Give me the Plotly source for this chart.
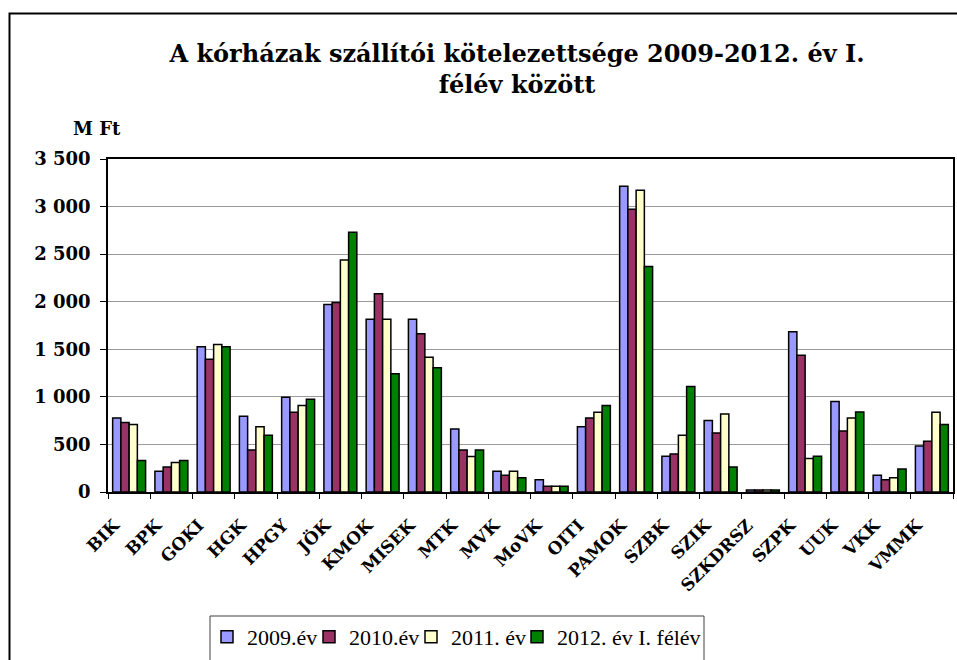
import plotly.graph_objects as go

categories = ["BIK", "BPK", "GOKI", "HGK", "HPGY", "JÖK", "KMOK", "MISEK", "MTK", "MVK",
              "MoVK", "OITI", "PAMOK", "SZBK", "SZIK", "SZKDRSZ", "SZPK", "UUK", "VKK", "VMMK"]
v2009 = [779, 217, 1526, 796, 996, 1971, 1817, 1817, 663, 217, 130, 687, 3213, 375, 751, 21, 1684, 951, 175, 484]
v2010 = [730, 263, 1396, 442, 838, 1992, 2083, 1663, 442, 175, 60, 779, 2971, 400, 621, 21, 1438, 642, 130, 533]
v2011 = [709, 309, 1550, 687, 908, 2438, 1817, 1417, 372, 217, 60, 838, 3171, 596, 821, 21, 351, 779, 151, 838]
v2012 = [330, 330, 1526, 596, 975, 2729, 1242, 1305, 442, 151, 60, 908, 2371, 1108, 263, 21, 375, 842, 242, 709]
series_names = ["2009.év", "2010.év", "2011. év", "2012. év I. félév"]
series_colors = ["#9999FF", "#993366", "#FFFFCC", "#008000"]
ytick_vals = [0, 500, 1000, 1500, 2000, 2500, 3000, 3500]
ytick_text = ["0", "500", "1 000", "1 500", "2 000", "2 500", "3 000", "3 500"]

W, H = 957, 660
L, R, T, B = 108, 953, 159, 492


def px_x(p):
    return (p - L) / (R - L)


def px_y(p):
    return (B - p) / (B - T)


legend_ids = ["legend", "legend2", "legend3", "legend4"]
legend_px = [207, 309, 411, 517]

fig = go.Figure()
for name, vals, col, lid in zip(series_names, [v2009, v2010, v2011, v2012], series_colors, legend_ids):
    fig.add_trace(go.Bar(x=categories, y=vals, name=name, legend=lid,
                         marker=dict(color=col, line=dict(color="black", width=1.5))))

serif = "DejaVu Serif"
legend_common = dict(orientation="h", y=px_y(616), xanchor="left", yanchor="top",
                     font=dict(family="Liberation Serif", size=22, color="black"),
                     bgcolor="rgba(0,0,0,0)", borderwidth=0, itemwidth=30)
legends = {lid: dict(x=px_x(xp), **legend_common) for lid, xp in zip(legend_ids, legend_px)}

fig.update_layout(
    width=W, height=H,
    margin=dict(l=L, r=W - R, t=T, b=H - B, autoexpand=False),
    paper_bgcolor="white", plot_bgcolor="white",
    barmode="group", bargap=0.22, bargroupgap=0,
    title=dict(text="<b>A kórházak szállítói kötelezettsége 2009-2012. év I.<br>félév között</b>",
               x=517 / W, xanchor="center", xref="container",
               y=1 - 62 / H, yanchor="top", yref="container",
               font=dict(family=serif, size=24, color="black")),
    xaxis=dict(showline=True, linecolor="black", linewidth=1.5, mirror=True,
               ticks="outside", tickson="boundaries", ticklen=5, tickcolor="black",
               tickangle=-45, showgrid=False, ticklabelstandoff=15, ticklabelshift=-15,
               tickfont=dict(family=serif, size=17, color="black", weight="bold")),
    yaxis=dict(range=[0, 3500], showline=True, linecolor="black", linewidth=1.5, mirror=True,
               tickvals=ytick_vals, ticktext=ytick_text, ticks="outside", ticklen=6,
               tickcolor="black", ticklabelstandoff=6,
               showgrid=True, gridcolor="#9a9a9a", gridwidth=1, zeroline=False,
               tickfont=dict(family=serif, size=18, color="black", weight="bold")),
    showlegend=True,
    **legends,
)

fig.add_annotation(text="<b>M Ft</b>", x=px_x(97), y=px_y(128), xref="paper", yref="paper",
                   xanchor="center", yanchor="middle",
                   showarrow=False, font=dict(family=serif, size=18, color="black"))

# legend box (extends past the bottom of the image, as in the reference)
fig.add_shape(type="rect", xref="paper", yref="paper",
              x0=px_x(210), x1=px_x(704), y0=px_y(616), y1=px_y(700),
              line=dict(color="#404040", width=1), layer="below")
# outer chart frame
fig.add_shape(type="rect", xref="paper", yref="paper",
              x0=px_x(9.5), x1=px_x(990), y0=px_y(13.5), y1=px_y(720),
              line=dict(color="black", width=2), layer="below")

fig.write_html("out.html", config={"displayModeBar": False},
               post_script="document.body.style.margin='0';document.body.style.overflow='hidden';")
